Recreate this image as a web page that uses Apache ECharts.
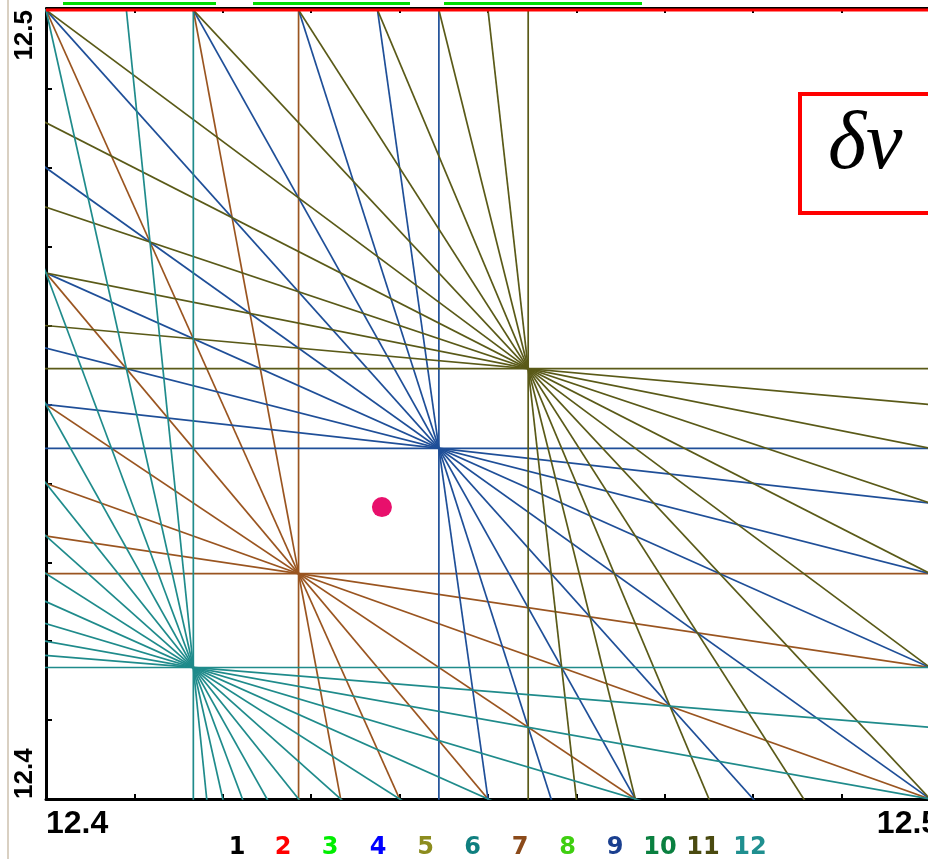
<!DOCTYPE html>
<html><head><meta charset="utf-8">
<script src="https://cdn.jsdelivr.net/npm/echarts@6/dist/echarts.min.js"></script>
<style>html,body{margin:0;padding:0;background:#fff;overflow:hidden}#c{width:928px;height:859px}</style>
</head><body><div id="c"></div><script>
// ---- data ----
const xRange = [12.4, 12.5];
const yRange = [12.4, 12.5];
const tickStep = 0.01;
const xTickLabels = ['12.4', '12.5'];
const yTickLabels = ['12.4', '12.5'];
const legendLabels = ['1','2','3','4','5','6','7','8','9','10','11','12'];
const legendColors = ['#000000','#ff0000','#00ee00','#0000ff','#8c8c1e','#0f7f7f','#8b4a1a','#3fcf10','#1a3f8f','#0a8040','#4a4a10','#1f8f8f'];
// sum resonances m*Qx + n*Qy = p (m+n = order) crossing the window
const resonanceOrders = [7, 9, 11, 12];
const resonanceP = [87, 112, 137, 149];
const halfIntegerQy = 12.5;          // order-2 line along the top
const workingPoint = [12.438, 12.437];

// ---- styles ----
const orderLineColors = {7: '#9a5520', 9: '#1f4f98', 11: '#5a5a18', 12: '#1f8b8b'};

const series = [];
resonanceOrders.forEach((k, i) => {
  const p = resonanceP[i];
  for (let m = 0; m <= k; m++) {
    const n = k - m;
    let pts;
    if (n === 0) {
      pts = [[p / m, 12.3], [p / m, 12.6]];
    } else {
      pts = [[12.3, (p - m * 12.3) / n], [12.6, (p - m * 12.6) / n]];
    }
    series.push({
      type: 'line', data: pts, symbol: 'none', silent: true, animation: false,
      clip: true, lineStyle: {color: orderLineColors[k], width: 1.7}, z: 2
    });
  }
});
series.push({
  type: 'line', data: [[xRange[0], halfIntegerQy], [xRange[1], halfIntegerQy]],
  symbol: 'none', clip: false, animation: false, silent: true,
  lineStyle: {color: '#ff0000', width: 3}, z: 3
});
series.push({
  type: 'scatter', data: [workingPoint], symbolSize: 20, animation: false,
  itemStyle: {color: '#e8106c', opacity: 1}, z: 4
});

function near(v, s) { return Math.abs(v - parseFloat(s)) < 1e-6; }
function fmtX(v) {
  const idx = xTickLabels.findIndex(s => near(v, s));
  if (idx < 0) return '';
  if (idx === xTickLabels.length - 1) return '{t|' + xTickLabels[idx] + '}{sp|}';
  return '{t|' + xTickLabels[idx] + '}';
}
function fmtY(v) { const l = yTickLabels.find(s => near(v, s)); return l || ''; }

const legendRich = {};
const slotWidths = [46,46,48,48,47,47,48,47,48,42,44,50];
let legendText = '';
legendLabels.forEach((lab, i) => {
  legendRich['t' + i] = {color: legendColors[i], fontSize: 24, fontWeight: 'bold',
    fontFamily: 'DejaVu Sans', width: slotWidths[i], align: 'center'};
  legendText += '{t' + i + '|' + lab + '}';
});

const xLabelFont = {fontSize: 32, fontWeight: 'bold', color: '#000', fontFamily: 'Liberation Sans'};

const chart = echarts.init(document.getElementById('c'), null, {renderer: 'canvas'});
chart.setOption({
  animation: false,
  backgroundColor: '#ffffff',
  grid: {left: 46, top: 10, width: 884, height: 789, outerBoundsMode: 'none', containLabel: false},
  title: {text: legendText, left: 214, top: 836, padding: 0, textStyle: {rich: legendRich}},
  xAxis: [{
    type: 'value', min: xRange[0], max: xRange[1], interval: tickStep, position: 'bottom',
    axisLine: {lineStyle: {color: '#000', width: 3}},
    axisTick: {inside: true, length: 5, lineStyle: {color: '#000', width: 2}},
    splitLine: {show: false},
    axisLabel: {formatter: fmtX, margin: 9, ...xLabelFont,
      alignMinLabel: 'left', alignMaxLabel: 'center',
      showMinLabel: true, showMaxLabel: true, hideOverlap: false,
      rich: {t: xLabelFont, sp: {width: 44, height: 1}}}
  }, {
    type: 'value', min: xRange[0], max: xRange[1], interval: tickStep, position: 'top', offset: 2,
    axisLine: {lineStyle: {color: '#000', width: 2}},
    axisTick: {inside: true, length: 5, lineStyle: {color: '#000', width: 2}},
    splitLine: {show: false}, axisLabel: {show: false}
  }],
  yAxis: {
    type: 'value', min: yRange[0], max: yRange[1], interval: tickStep,
    axisLine: {show: true, lineStyle: {color: '#000', width: 3}},
    axisTick: {show: true, inside: true, length: 6, lineStyle: {color: '#000', width: 2}},
    splitLine: {show: false},
    axisLabel: {formatter: fmtY, rotate: 90, margin: 8, fontSize: 26, fontWeight: 'bold', color: '#000',
      fontFamily: 'Liberation Sans', alignMinLabel: 'left', alignMaxLabel: 'right',
      showMinLabel: true, showMaxLabel: true, hideOverlap: false}
  },
  graphic: [
    {type: 'line', shape: {x1: 8, y1: 0, x2: 8, y2: 859}, style: {stroke: '#d9d0c2', lineWidth: 2}, silent: true},
    {type: 'rect', shape: {x: 63, y: 2, width: 153, height: 3}, style: {fill: '#00dd00'}, silent: true},
    {type: 'rect', shape: {x: 253, y: 2, width: 157, height: 3}, style: {fill: '#00dd00'}, silent: true},
    {type: 'rect', shape: {x: 444, y: 2, width: 198, height: 3}, style: {fill: '#00dd00'}, silent: true},
    {type: 'rect', shape: {x: 800, y: 94, width: 160, height: 119}, style: {fill: '#fff', stroke: '#ff0000', lineWidth: 4}, z: 10, silent: true},
    {type: 'text', x: 828, y: 105, z: 11, silent: true,
      style: {text: 'δν', font: 'italic 82px "Liberation Serif", "DejaVu Serif", serif', fill: '#000'}}
  ],
  series: series
});
</script></body></html>
